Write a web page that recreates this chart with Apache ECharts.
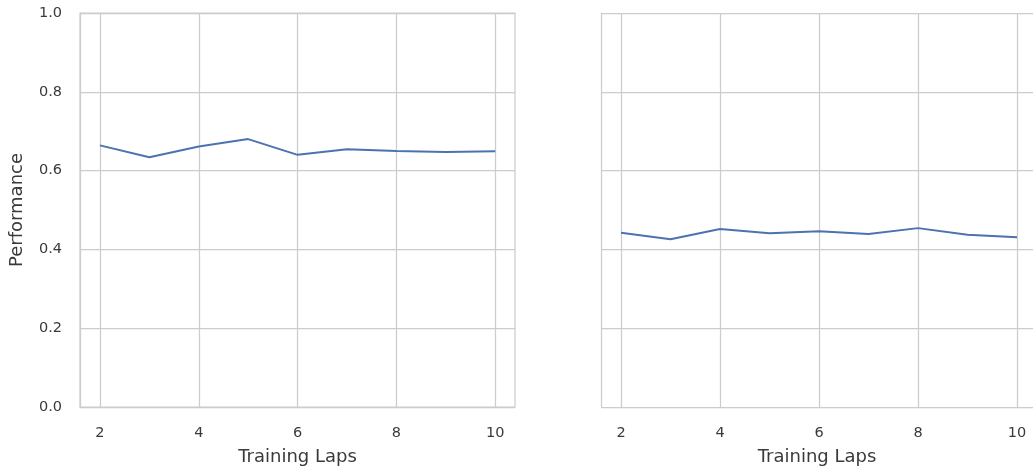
<!DOCTYPE html>
<html>
<head>
<meta charset="utf-8">
<script src="https://cdn.jsdelivr.net/npm/echarts@6/dist/echarts.min.js"></script>
<style>
html,body{margin:0;padding:0;background:#fff;}
#c{width:1033px;height:473px;}
</style>
</head>
<body>
<div id="c"></div>
<script>
const laps = [2, 3, 4, 5, 6, 7, 8, 9, 10];
const leftPerf = [0.664, 0.634, 0.661, 0.680, 0.640, 0.654, 0.650, 0.647, 0.649];
const rightPerf = [0.442, 0.426, 0.452, 0.441, 0.446, 0.439, 0.454, 0.437, 0.431];
const xTicks = [2, 4, 6, 8, 10];

const chart = echarts.init(document.getElementById('c'), null, {renderer: 'canvas'});
const font = 'DejaVu Sans, sans-serif';
const gridColor = '#cccccc';
const textColor = '#3a3a3a';

function xAxis(idx, max) {
  return {
    type: 'value', gridIndex: idx, min: 1.596, max: max,
    name: 'Training Laps', nameLocation: 'middle', nameGap: 41,
    nameTextStyle: {color: textColor, fontSize: 18, fontFamily: font},
    axisLine: {show: false},
    axisTick: {show: false, customValues: xTicks},
    axisLabel: {customValues: xTicks, color: textColor, fontSize: 14.5, fontFamily: font, margin: 19},
    splitLine: {show: true, lineStyle: {color: gridColor, width: 1.25}}
  };
}
function yAxis(idx, showLabels) {
  return {
    type: 'value', gridIndex: idx, min: 0, max: 1, interval: 0.2,
    name: showLabels ? 'Performance' : '', nameLocation: 'middle', nameGap: 54,
    nameTextStyle: {color: textColor, fontSize: 18, fontFamily: font},
    axisLine: {show: true, lineStyle: {color: gridColor, width: 1.25}},
    axisTick: {show: false},
    axisLabel: {show: showLabels, color: textColor, fontSize: 14.5, fontFamily: font, margin: 18,
      formatter: v => v.toFixed(1)},
    splitLine: {show: true, lineStyle: {color: gridColor, width: 1.25}}
  };
}

chart.setOption({
  animation: false,
  backgroundColor: '#ffffff',
  grid: [
    {left: 80, top: 13, width: 435, height: 394, show: true, borderColor: gridColor, borderWidth: 1.25},
    {left: 601, top: 13, width: 432, height: 394, show: false}
  ],
  xAxis: [xAxis(0, 10.4), xAxis(1, 10.323)],
  yAxis: [yAxis(0, true), yAxis(1, false)],
  series: [
    {type: 'line', xAxisIndex: 0, yAxisIndex: 0, data: laps.map((l, i) => [l, leftPerf[i]]),
      showSymbol: false, lineStyle: {color: '#4c72b0', width: 2}},
    {type: 'line', xAxisIndex: 1, yAxisIndex: 1, data: laps.map((l, i) => [l, rightPerf[i]]),
      showSymbol: false, lineStyle: {color: '#4c72b0', width: 2}}
  ]
});
</script>
</body>
</html>
